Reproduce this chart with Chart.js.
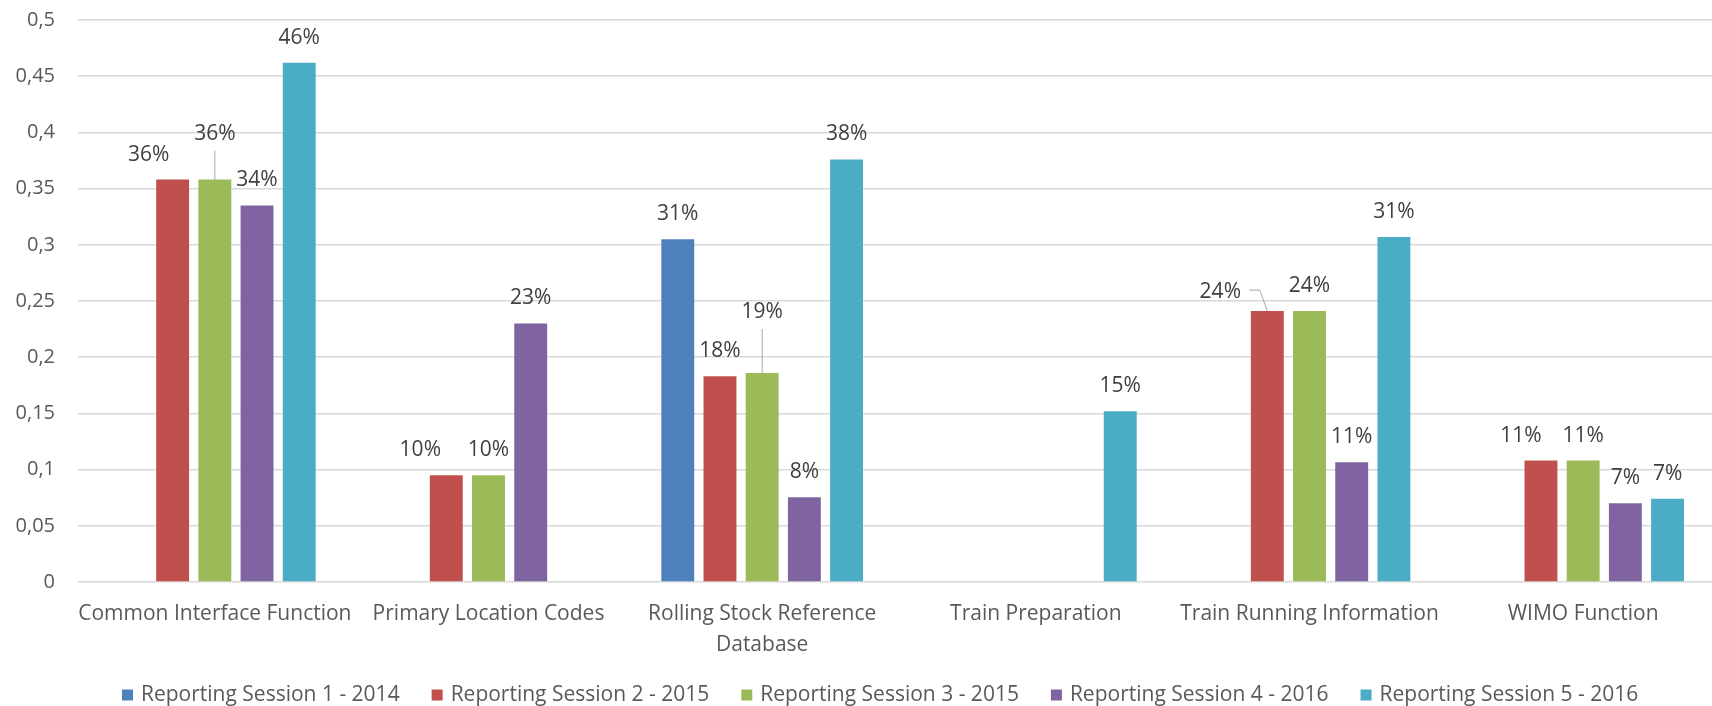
<!DOCTYPE html>
<html>
<head>
<meta charset="utf-8">
<script src="https://cdn.jsdelivr.net/npm/chart.js@4"></script>
<style>
  html, body { margin: 0; padding: 0; background: #ffffff; overflow: hidden; }
  #wrap { width: 1720px; height: 706px; }
</style>
</head>
<body>
<div id="wrap"><canvas id="chart"></canvas></div>
<script>
//categories on the x axis (nested array = wrapped label)
const categories = [
  "Common Interface Function",
  "Primary Location Codes",
  ["Rolling Stock Reference", "Database"],
  "Train Preparation",
  "Train Running Information",
  "WIMO Function",
];
//series names
const seriesNames = [
  "Reporting Session 1 - 2014",
  "Reporting Session 2 - 2015",
  "Reporting Session 3 - 2015",
  "Reporting Session 4 - 2016",
  "Reporting Session 5 - 2016",
];
//values per series (null = no bar)
const session1 = [null, null, 0.305, null, null, null];
const session2 = [0.358, 0.095, 0.183, null, 0.241, 0.108];
const session3 = [0.358, 0.095, 0.186, null, 0.241, 0.108];
const session4 = [0.335, 0.23, 0.0755, null, 0.1066, 0.07];
const session5 = [0.462, null, 0.376, 0.152, 0.307, 0.074];
//y axis ticks
const yMax = 0.5;
const yStep = 0.05;

//bar colors
const seriesColors = ["#4f81bd", "#c0504d", "#9bbb59", "#8064a2", "#4bacc6"];
const font = "'Open Sans', 'DejaVu Sans', sans-serif";

//label moves for the ones excel pushed aside ("dataset-index")
const labelNudges = {
  "1-0": { dx: -24 },
  "2-0": { dy: -21, leader: [[0, -29], [0, 0]] },
  "1-1": { dx: -26 },
  "2-2": { dy: -36, leader: [[0, -44], [0, 0]] },
  "1-4": { dx: -47, dy: 6, leader: [[-18, -21], [-7.5, -21], [0, 0]] },
  "1-5": { dx: -20 },
};

//draws the % labels above the bars
const barLabels = {
  id: "barLabels",
  afterDatasetsDraw(chart) {
    const ctx = chart.ctx;
    ctx.save();
    ctx.font = "21px " + font;
    ctx.textAlign = "center";
    ctx.textBaseline = "middle";
    chart.data.datasets.forEach((ds, di) => {
      const meta = chart.getDatasetMeta(di);
      meta.data.forEach((bar, i) => {
        const v = ds.data[i];
        if (v === null || v === undefined) return;
        const n = labelNudges[di + "-" + i] || {};
        const x = bar.x + (n.dx || 0);
        const y = bar.y - 25 + (n.dy || 0);
        if (n.leader) {
          ctx.strokeStyle = "#a6a6a6";
          ctx.lineWidth = 1;
          ctx.beginPath();
          n.leader.forEach((p, k) => {
            const px = bar.x + p[0], py = bar.y + p[1];
            if (k === 0) ctx.moveTo(px, py); else ctx.lineTo(px, py);
          });
          ctx.stroke();
        }
        ctx.fillStyle = "#404040";
        ctx.fillText(Math.round(v * 100) + "%", x, y);
      });
    });
    ctx.restore();
  },
};

//legend along the bottom, drawn by hand so it sits low like excel
const bottomLegend = {
  id: "bottomLegend",
  afterDraw(chart) {
    const ctx = chart.ctx;
    ctx.save();
    ctx.font = "21px " + font;
    ctx.textBaseline = "middle";
    ctx.textAlign = "left";
    const box = 11, gap = 8, space = 32;
    const y = chart.height - 11;
    let x = 122;
    chart.data.datasets.forEach((ds) => {
      ctx.fillStyle = ds.backgroundColor;
      ctx.fillRect(x, y - box / 2, box, box);
      ctx.fillStyle = "#595959";
      ctx.fillText(ds.label, x + box + gap, y);
      x += box + gap + ctx.measureText(ds.label).width + space;
    });
    ctx.restore();
  },
};

const seriesValues = [session1, session2, session3, session4, session5];

new Chart(document.getElementById("chart"), {
  type: "bar",
  plugins: [barLabels, bottomLegend],
  data: {
    labels: categories,
    datasets: seriesValues.map((vals, k) => ({
      label: seriesNames[k],
      data: vals,
      backgroundColor: seriesColors[k],
      categoryPercentage: 0.771,
      barPercentage: 0.78,
    })),
  },
  options: {
    responsive: true,
    maintainAspectRatio: false,
    animation: false,
    layout: { padding: { top: 20, right: 0, bottom: 48, left: 0 } },
    plugins: {
      legend: { display: false },
      tooltip: { enabled: false },
    },
    scales: {
      x: {
        grid: { display: false },
        border: { display: false },
        ticks: {
          color: "#595959",
          font: { family: font, size: 21, lineHeight: 1.45 },
          padding: 9,
          maxRotation: 0,
          autoSkip: false,
        },
        afterFit: (s) => { s.height = 76; s.paddingLeft = 0; s.paddingRight = 0; },
      },
      y: {
        min: 0,
        max: yMax,
        border: { display: false },
        grid: { color: "#d9d9d9", lineWidth: 1.5, drawTicks: false },
        ticks: {
          stepSize: yStep,
          color: "#595959",
          font: { family: font, size: 20 },
          padding: 23,
          callback: (v) => String(Math.round(v * 100) / 100).replace(".", ","),
        },
        afterFit: (s) => { s.width = 78; s.paddingTop = 0; s.paddingBottom = 0; },
      },
    },
  },
});
</script>
</body>
</html>
